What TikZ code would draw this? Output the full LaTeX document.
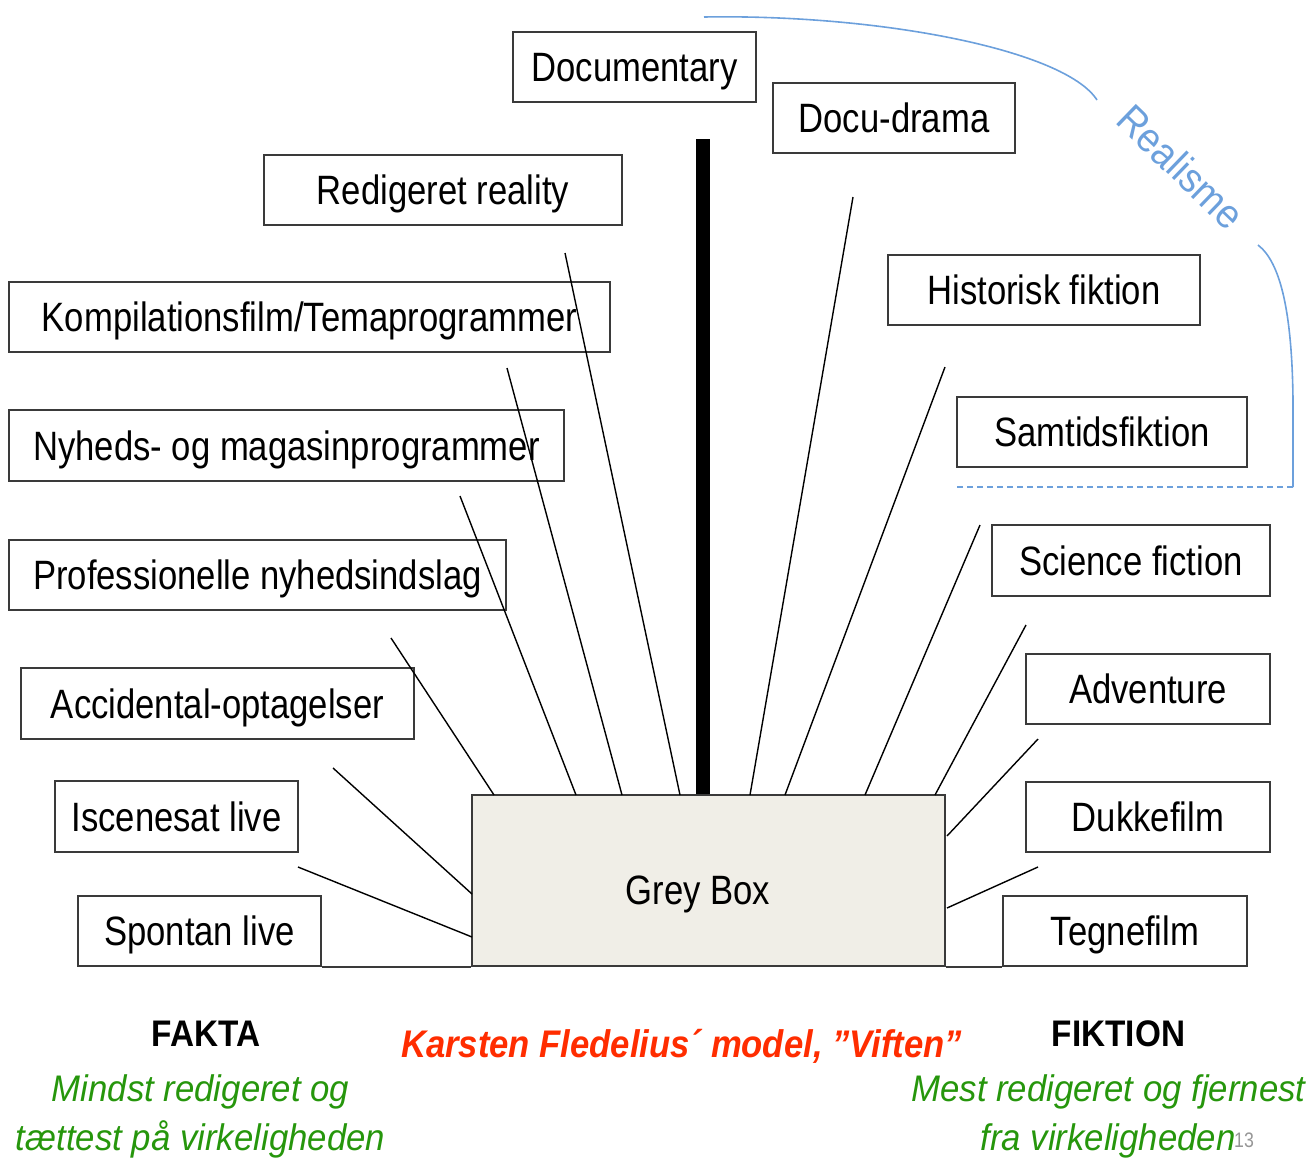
\documentclass[tikz,border=0pt]{standalone}
\usepackage{fontspec}
\setmainfont{Liberation Sans}
\newfontfamily\labfont[FakeStretch=0.845]{Liberation Sans}
\newfontfamily\bfstretch[FakeStretch=0.9]{Liberation Sans}
\newfontfamily\greenfont[FakeStretch=0.94]{Liberation Sans}
\newfontfamily\realfont[FakeStretch=0.92]{Liberation Sans}
\definecolor{boxgray}{RGB}{58,58,58}
\definecolor{greyfill}{RGB}{240,238,231}
\definecolor{realblue}{RGB}{108,160,220}
\definecolor{faktagreen}{RGB}{38,150,12}
\definecolor{titlered}{RGB}{255,45,0}
\definecolor{pagegray}{RGB}{150,150,150}
\begin{document}
\begin{tikzpicture}[x=1pt,y=-1pt,
  genre/.style={draw=boxgray, line width=2pt, inner sep=0pt,
    font=\labfont\fontsize{41}{48}\selectfont, text height=29.5pt, text depth=0pt},
  spoke/.style={black, line width=1.4pt},
  realline/.style={realblue, line width=1.6pt},
]
\useasboundingbox (0,0) rectangle (1310,1160);

% grey box
\node[draw=boxgray, line width=2pt, fill=greyfill, minimum width=473, minimum height=171, inner sep=0pt] (grey) at (708.5,880.5) {};
\node[font=\labfont\fontsize{41}{48}\selectfont, text height=29.5pt, text depth=0pt, inner sep=0pt] (greytxt) at (698,889.5) {Grey Box};

% genre boxes
\node[genre, minimum width=243, minimum height=70] (doc)   at (634.5,67)   {Documentary};
\node[genre, minimum width=242, minimum height=70] (docu)  at (894,118)    {Docu-drama};
\node[genre, minimum width=358, minimum height=70] (redig) at (443,190)    {Redigeret reality};
\node[genre, minimum width=601, minimum height=70] (komp)  at (309.5,317)  {Kompilationsfilm/Temaprogrammer};
\node[genre, minimum width=312, minimum height=70] (hist)  at (1044,290)   {Historisk fiktion};
\node[genre, minimum width=555, minimum height=71] (nyh)   at (286.5,445.5){Nyheds- og magasinprogrammer};
\node[genre, minimum width=290, minimum height=70] (samt)  at (1102,432)   {Samtidsfiktion};
\node[genre, minimum width=497, minimum height=70] (prof)  at (257.5,575)  {Professionelle nyhedsindslag};
\node[genre, minimum width=278, minimum height=71] (scifi) at (1131,560.5) {Science fiction};
\node[genre, minimum width=393, minimum height=71] (acc)   at (217.5,703.5){Accidental-optagelser};
\node[genre, minimum width=244, minimum height=70] (adv)   at (1148,689)   {Adventure};
\node[genre, minimum width=243, minimum height=71] (isc)   at (176.5,816.5){Iscenesat live};
\node[genre, minimum width=244, minimum height=70] (dukke) at (1148,817)   {Dukkefilm};
\node[genre, minimum width=243, minimum height=70] (spont) at (199.5,931)  {Spontan live};
\node[genre, minimum width=244, minimum height=70] (tegne) at (1125,931)   {Tegnefilm};

% base line
\draw[boxgray, line width=2pt] (spont.south east) -- (grey.south west);
\draw[boxgray, line width=2pt] (grey.south east) -- (tegne.south west);

% thick bar
\coordinate (bartop) at (703,139);
\draw[black, line width=14pt] (bartop) -- (bartop |- grey.north);

% spokes: free ends
\coordinate (l1a) at (298,867);  \coordinate (l1b) at (472,937);
\coordinate (l2a) at (333,768);  \coordinate (l2b) at (472,894);
\coordinate (l3a) at (391,638);  \coordinate (l3b) at (494,795);
\coordinate (l4a) at (460,496);  \coordinate (l4b) at (576,795);
\coordinate (l5a) at (507,368);  \coordinate (l5b) at (622,795);
\coordinate (l6a) at (565,253);  \coordinate (l6b) at (680,795);
\coordinate (r1a) at (853,197);  \coordinate (r1b) at (750,795);
\coordinate (r2a) at (945,367);  \coordinate (r2b) at (785,795);
\coordinate (r3a) at (980,525);  \coordinate (r3b) at (865,795);
\coordinate (r4a) at (1026,625); \coordinate (r4b) at (935,795);
\coordinate (r5a) at (1038,739); \coordinate (r5b) at (947,836);
\coordinate (r6a) at (1038,867); \coordinate (r6b) at (947,908);
\foreach \s in {l1,l2,l3,l4,l5,l6,r1,r2,r3,r4,r5,r6}
  \draw[spoke] (\s a) -- (\s b);

% Realisme bracket
\coordinate (ra) at (704,17);
\coordinate (rb) at (1097,100);
\coordinate (rc) at (1258,245);
\coordinate (rd) at (1293,487);
\coordinate (re) at (957,487);
\draw[realline] (ra) .. controls (880,14) and (1065,50) .. (rb);
\draw[realline] (rc) .. controls (1280,262) and (1292,310) .. (1293,400) -- (rd);
\draw[realline, line width=1.4pt, dash pattern=on 6pt off 4pt] (rd) -- (re);
\node[font=\realfont\fontsize{41}{46}\selectfont, text=realblue, rotate=-44, inner sep=0pt] (realisme) at (1181,167) {Realisme};

% bottom texts
\node[anchor=base, font=\bfstretch\bfseries\fontsize{37}{44}\selectfont, inner sep=0pt] (fakta) at (206,1046) {FAKTA};
\node[anchor=base, font=\bfstretch\bfseries\fontsize{37}{44}\selectfont, inner sep=0pt] (fiktion) at (1118.5,1046) {FIKTION};
\node[anchor=base, font=\bfstretch\bfseries\itshape\fontsize{38.5}{46}\selectfont, text=titlered, inner sep=0pt] (title) at (681.5,1057) {Karsten Fledelius´ model, ”Viften”};
\node[anchor=base, font=\greenfont\itshape\fontsize{37}{44}\selectfont, text=faktagreen, inner sep=0pt] (g1) at (200.5,1101) {Mindst redigeret og};
\node[anchor=base, font=\greenfont\itshape\fontsize{37}{44}\selectfont, text=faktagreen, inner sep=0pt] (g2) at (200.5,1150) {tættest på virkeligheden};
\node[anchor=base, font=\greenfont\itshape\fontsize{37}{44}\selectfont, text=faktagreen, inner sep=0pt] (g3) at (1108.5,1101) {Mest redigeret og fjernest};
\node[anchor=base, font=\greenfont\itshape\fontsize{37}{44}\selectfont, text=faktagreen, inner sep=0pt] (g4) at (1108,1150) {fra virkeligheden};
\node[anchor=base west, font=\labfont\fontsize{21}{24}\selectfont, text=pagegray, inner sep=0pt] (pnum) at (1234,1147) {13};
\end{tikzpicture}
\end{document}
